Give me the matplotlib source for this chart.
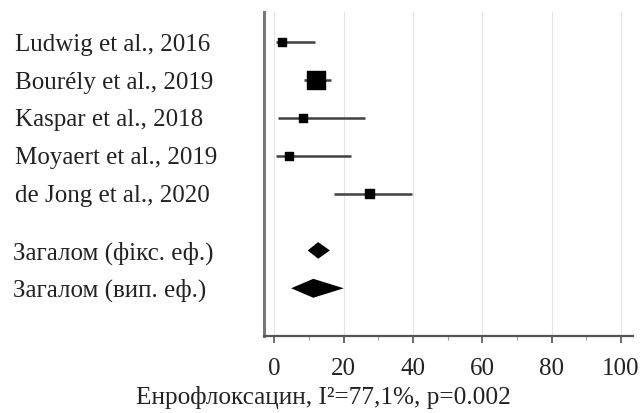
import numpy as np
import matplotlib.pyplot as plt
import matplotlib.transforms as mtransforms

plt.rcParams['font.family'] = ['Liberation Serif', 'DejaVu Serif']

studies = ['Ludwig et al., 2016', 'Bourély et al., 2019', 'Kaspar et al., 2018',
           'Moyaert et al., 2019', 'de Jong et al., 2020']
estimate = [2.2, 12.1, 8.2, 4.3, 27.4]
ci_low = [0.3, 8.5, 1.1, 0.3, 17.1]
ci_high = [11.8, 16.3, 26.2, 22.1, 39.7]
weight = [12, 60, 12, 12, 16]

pooled_labels = ['Загалом (фікс. еф.)', 'Загалом (вип. еф.)']
pooled_est = [12.6, 11.2]
pooled_low = [9.6, 4.8]
pooled_high = [16.0, 20.0]

xlabel = 'Енрофлоксацин, I²=77,1%, p=0.002'

fig = plt.figure(figsize=(6.41, 4.14), dpi=100)
ax = fig.add_axes([0.412, 0.187, 0.5755, 0.7816])

y_studies = np.arange(len(studies))
y_pooled = len(studies) + 0.5 + np.arange(len(pooled_labels))

# confidence intervals and weighted squares
for y, lo, hi in zip(y_studies, ci_low, ci_high):
    ax.plot([lo, hi], [y, y], color='#404040', lw=1.8, solid_capstyle='butt', zorder=2)
side = 2.3 * np.sqrt(weight) * 0.72
ax.scatter(estimate, y_studies, s=side ** 2, marker='s', color='black', zorder=3)

# pooled diamonds
for y, est, lo, hi, h in zip(y_pooled, pooled_est, pooled_low, pooled_high, [0.22, 0.25]):
    ax.fill([lo, est, hi, est], [y, y - h, y, y + h], color='black', lw=0, zorder=3)

ax.set_xlim(-3, 103.5)
ax.set_ylim(7.75, -0.8)
ax.set_xticks(np.arange(0, 101, 20))
ax.set_xticks(np.arange(10, 100, 20), minor=True)
ax.set_yticks([])
ax.grid(axis='x', color='#e4e4e4', lw=0.8)
ax.set_axisbelow(True)

for s in ['top', 'right']:
    ax.spines[s].set_visible(False)
ax.spines['left'].set_color('#777777')
ax.spines['left'].set_linewidth(2.2)
ax.spines['bottom'].set_color('#555555')
ax.spines['bottom'].set_linewidth(1.6)
ax.tick_params(axis='x', which='major', length=5, width=1.2, color='#555555',
               labelsize=18, pad=10.5, labelcolor='#222222')
ax.tick_params(axis='x', which='minor', length=3, width=0.8, color='#999999')
fig.text(0.504, 1 - 398 / 414, xlabel, ha='center', va='center',
         fontsize=18.2, color='#222222')

trans = mtransforms.blended_transform_factory(fig.transFigure, ax.transData)
for y, lab in zip(y_studies, studies):
    ax.text(15 / 641, y + 0.04, lab, transform=trans, ha='left', va='center',
            fontsize=18, color='#222222')
for y, lab in zip(y_pooled, pooled_labels):
    ax.text(13 / 641, y + 0.04, lab, transform=trans, ha='left', va='center',
            fontsize=18, color='#222222')

fig.savefig('out.png', dpi=100)
